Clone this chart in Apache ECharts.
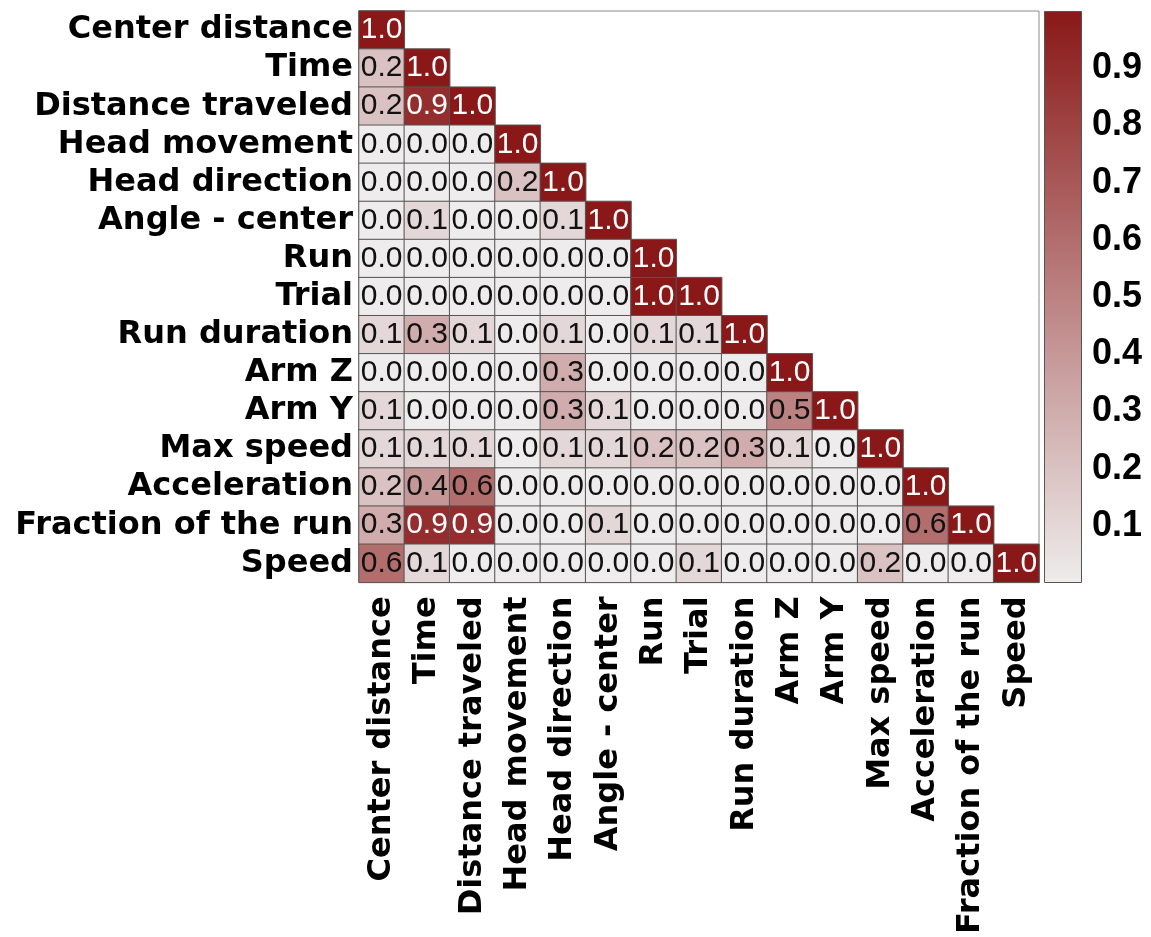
<!DOCTYPE html>
<html>
<head>
<meta charset="utf-8">
<script src="https://cdn.jsdelivr.net/npm/echarts@6/dist/echarts.min.js"></script>
<style>
html,body{margin:0;padding:0;background:#fff;}
#chart{width:1151px;height:937px;}
</style>
</head>
<body>
<div id="chart"></div>
<script>
const categories = ["Center distance","Time","Distance traveled","Head movement","Head direction","Angle - center","Run","Trial","Run duration","Arm Z","Arm Y","Max speed","Acceleration","Fraction of the run","Speed"];

// lower-triangle correlation rows (row i has i+1 values)
const row0  = [1.0];
const row1  = [0.2, 1.0];
const row2  = [0.2, 0.9, 1.0];
const row3  = [0.0, 0.0, 0.0, 1.0];
const row4  = [0.0, 0.0, 0.0, 0.2, 1.0];
const row5  = [0.0, 0.1, 0.0, 0.0, 0.1, 1.0];
const row6  = [0.0, 0.0, 0.0, 0.0, 0.0, 0.0, 1.0];
const row7  = [0.0, 0.0, 0.0, 0.0, 0.0, 0.0, 1.0, 1.0];
const row8  = [0.1, 0.3, 0.1, 0.0, 0.1, 0.0, 0.1, 0.1, 1.0];
const row9  = [0.0, 0.0, 0.0, 0.0, 0.3, 0.0, 0.0, 0.0, 0.0, 1.0];
const row10 = [0.1, 0.0, 0.0, 0.0, 0.3, 0.1, 0.0, 0.0, 0.0, 0.5, 1.0];
const row11 = [0.1, 0.1, 0.1, 0.0, 0.1, 0.1, 0.2, 0.2, 0.3, 0.1, 0.0, 1.0];
const row12 = [0.2, 0.4, 0.6, 0.0, 0.0, 0.0, 0.0, 0.0, 0.0, 0.0, 0.0, 0.0, 1.0];
const row13 = [0.3, 0.9, 0.9, 0.0, 0.0, 0.1, 0.0, 0.0, 0.0, 0.0, 0.0, 0.0, 0.6, 1.0];
const row14 = [0.6, 0.1, 0.0, 0.0, 0.0, 0.0, 0.0, 0.1, 0.0, 0.0, 0.0, 0.2, 0.0, 0.0, 1.0];

const colorbarTicks = [0.1, 0.2, 0.3, 0.4, 0.5, 0.6, 0.7, 0.8, 0.9];

const rows = [row0,row1,row2,row3,row4,row5,row6,row7,row8,row9,row10,row11,row12,row13,row14];
const heatData = [];
rows.forEach((r, i) => {
  r.forEach((v, j) => {
    heatData.push({
      value: [j, i, v],
      label: { color: v >= 0.85 ? '#ffffff' : '#111111' }
    });
  });
});

const lowColor = '#eeecec';
const highColor = '#8a1818';

const chart = echarts.init(document.getElementById('chart'));
chart.setOption({
  backgroundColor: '#ffffff',
  animation: false,
  grid: [
    { left: 359, top: 11, width: 680, height: 572, show: true, borderColor: '#8a8a8a', borderWidth: 1, backgroundColor: 'transparent' },
    { left: 1044, top: 11, width: 38, height: 572 }
  ],
  xAxis: [
    {
      type: 'category', data: categories, gridIndex: 0,
      axisLine: { show: false }, axisTick: { show: false }, splitLine: { show: false },
      axisLabel: { rotate: 90, margin: 14, interval: 0, color: '#000', fontFamily: 'DejaVu Sans', fontWeight: 'bold', fontSize: 32 }
    },
    { type: 'category', data: ['cb'], gridIndex: 1, show: false }
  ],
  yAxis: [
    {
      type: 'category', data: categories, gridIndex: 0, inverse: true,
      axisLine: { show: false }, axisTick: { show: false }, splitLine: { show: false },
      axisLabel: { margin: 6, interval: 0, color: '#000', fontFamily: 'DejaVu Sans', fontWeight: 'bold', fontSize: 32 }
    },
    {
      type: 'value', gridIndex: 1, min: 0, max: 1, interval: 0.1, position: 'right',
      axisLine: { show: false }, splitLine: { show: false },
      axisTick: { show: true, inside: true, length: 7, customValues: colorbarTicks, lineStyle: { color: '#333', width: 1 } },
      axisLabel: {
        margin: 10, color: '#000', fontFamily: 'Liberation Sans', fontWeight: 'bold', fontSize: 36,
        customValues: colorbarTicks,
        formatter: function (v) { return (Math.round(v * 10) / 10).toFixed(1); }
      }
    }
  ],
  visualMap: {
    show: false, seriesIndex: 0, min: 0, max: 1, dimension: 2,
    inRange: { color: [lowColor, highColor] }
  },
  series: [
    {
      type: 'heatmap', xAxisIndex: 0, yAxisIndex: 0,
      data: heatData,
      itemStyle: { borderColor: '#555', borderWidth: 1 },
      label: {
        show: true, fontFamily: 'Liberation Sans', fontSize: 30,
        formatter: function (p) { return p.value[2].toFixed(1); }
      },
      emphasis: { disabled: true }
    },
    {
      type: 'bar', xAxisIndex: 1, yAxisIndex: 1,
      data: [1], barWidth: '100%',
      itemStyle: {
        borderColor: '#555', borderWidth: 1,
        color: new echarts.graphic.LinearGradient(0, 0, 0, 1, [
          { offset: 0, color: highColor },
          { offset: 1, color: lowColor }
        ])
      },
      silent: true
    }
  ]
});
</script>
</body>
</html>
